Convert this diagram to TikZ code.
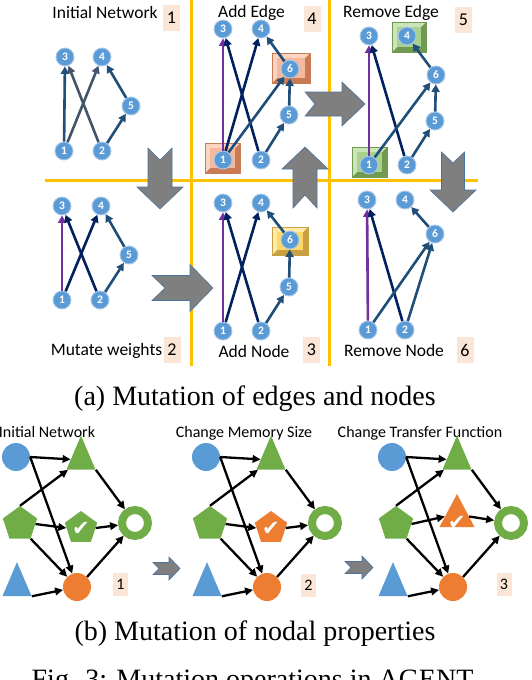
\documentclass[tikz,border=0pt]{standalone}
\usepackage{fontspec}
\setmainfont{Liberation Serif}
\newfontfamily\calfont{Carlito}
\newfontfamily\djfont{DejaVu Sans}
\usetikzlibrary{arrows.meta,shapes.geometric,calc}
\definecolor{nblue}{HTML}{5B9BD5}
\definecolor{nborder}{HTML}{A9C8EA}
\definecolor{cmb}{HTML}{1F4E79}
\definecolor{cslate}{HTML}{44546A}
\definecolor{cnavy}{HTML}{002060}
\definecolor{cpur}{HTML}{7030A0}
\definecolor{peach}{HTML}{FBE5D6}
\definecolor{gold}{HTML}{FFC000}
\definecolor{chgray}{HTML}{7F7F7F}
\definecolor{chedge}{HTML}{4A74A0}
\definecolor{sblue}{HTML}{5B9BD5}
\definecolor{sgreen}{HTML}{70AD47}
\definecolor{sorange}{HTML}{ED7D31}
\definecolor{obase}{HTML}{F6B99B}
\definecolor{olight}{HTML}{FAD5C2}
\definecolor{odark}{HTML}{C97B55}
\definecolor{gbase}{HTML}{A9D18E}
\definecolor{glight}{HTML}{CBE4BA}
\definecolor{gdark}{HTML}{6F9A50}
\definecolor{ybase}{HTML}{FFD966}
\definecolor{ylight}{HTML}{FFEAA8}
\definecolor{ydark}{HTML}{C9A043}
\newcommand\ttlfont{\calfont\fontsize{17.5}{18}\selectfont}
\newcommand\bttlfont{\calfont\fontsize{16}{17}\selectfont}
\newcommand\numfont{\calfont\fontsize{18}{18}\selectfont}
\newcommand\bnumfont{\calfont\fontsize{16}{16}\selectfont}
\newcommand\nnfont{\calfont\bfseries\fontsize{11.5}{11.5}\selectfont}
\newcommand\capfont{\fontsize{28}{30}\selectfont}
\newcommand\chev[8]{%
  \begin{scope}[shift={(#1,#2)}, rotate=#3]
    \path[chevst] (-#4/2,-#5) -- (#4/2-#7,-#5) -- (#4/2-#7,-#6) -- (#4/2,0) -- (#4/2-#7,#6) -- (#4/2-#7,#5) -- (-#4/2,#5) -- (-#4/2+#8,0) -- cycle;
  \end{scope}}
\newcommand\bevel[7]{%
  \fill[#7] (#1,#2) rectangle (#3,#4);
  \fill[#6] (#1,#2) -- (#3,#2) -- (#3-5,#2+5) -- (#1+5,#2+5) -- (#1+5,#4-5) -- (#1,#4) -- cycle;
  \fill[#5] (#1+5,#2+5) rectangle (#3-5,#4-5);
  \draw[#7, line width=0.5pt] (#1,#2) rectangle (#3,#4);}
\newcommand\bnet[5]{%
  \begin{scope}[shift={(#2,0)}]
    \node[bcirc, fill=sblue] (#1bc) at (16,457) {};
    \node[tri, fill=sgreen] (#1gt) at (81,460) {};
    \node[pent, minimum size=36pt, fill=sgreen] (#1pl) at (20,524) {};
    \node[#3] (#1md) at (81,#4) {};
    \node[ringst] (#1rg) at (135,523) {};
    \node[bcirc, fill=sorange] (#1oc) at (77,587) {};
    \node[tri, fill=sblue] (#1bt) at (17,586.5) {};
    \node[text=white, font=\djfont\fontsize{21}{21}\selectfont, inner sep=0] (#1ck) at (81,#5) {✔};
    \draw[bed] (#1bc.east) -- (#1gt);
    \draw[bed] (#1bc.east) -- (#1oc);
    \draw[bed] (#1pl.corner 1) -- (#1gt);
    \draw[bed] (#1pl.east) -- (#1md.west);
    \draw[bed] (#1pl.corner 4) -- (#1oc);
    \draw[bed] (#1md.east) -- (#1rg);
    \draw[bed] (#1gt.right corner) -- (#1rg);
    \draw[bed] (#1oc.north east) -- (#1rg);
    \draw[bed] (#1bt.right corner) -- (#1oc);
  \end{scope}}
\begin{document}
\begin{tikzpicture}[x=1pt,y=-1pt,
  nn/.style={circle, fill=nblue, draw=nborder, line width=0.9pt, minimum size=18pt, inner sep=0pt, text=white, font=\nnfont},
  ed/.style={line width=2.6pt, -{Triangle[length=7.5pt,width=8pt]}},
  numbox/.style={fill=peach, minimum width=17pt, minimum height=26pt, inner sep=0pt, font=\numfont},
  bnumbox/.style={fill=peach, minimum width=15pt, minimum height=23pt, inner sep=0pt, font=\bnumfont},
  ttl/.style={font=\ttlfont, inner sep=0pt, anchor=base},
  bttl/.style={font=\bttlfont, inner sep=0pt, anchor=base},
  yline/.style={draw=gold, line width=3pt},
  chevst/.style={fill=chgray, draw=chedge, line width=0.6pt},
  bed/.style={line width=2.3pt, black, -{Triangle[length=8pt,width=7.5pt]}},
  bcirc/.style={circle, minimum size=28pt, inner sep=0pt},
  tri/.style={isosceles triangle, isosceles triangle stretches, shape border rotate=90, minimum width=29pt, minimum height=34pt, inner sep=0pt},
  pent/.style={regular polygon, regular polygon sides=5, inner sep=0pt},
  ringst/.style={circle, draw=sgreen, fill=white, line width=8pt, minimum size=26pt, inner sep=0pt},
  capt/.style={font=\capfont, inner sep=0pt, anchor=base}
]
\useasboundingbox (0,0) rectangle (532,680);
\clip (0,0) rectangle (532,680);
\fill[white] (0,0) rectangle (532,680);

% yellow separators
\draw[yline] (191,0) -- (191,366);
\draw[yline] (329,0) -- (329,366);
\draw[yline] (45,180) -- (478,180);

% big chevron arrows
\chev{160}{178.5}{-90}{61}{12}{23}{22}{12}
\chev{182.5}{288}{0}{61}{12.5}{23.5}{23}{13}
\chev{305}{177.5}{90}{61}{12}{23}{22}{13}
\chev{335}{104}{0}{60}{12}{22}{23}{10}
\chev{453}{182}{-90}{60}{11.5}{23}{22}{11}

% titles and number boxes
\node[ttl] (t1) at (105,19) {Initial Network};
\node[numbox] (n1) at (171.5,18) {1};
\node[ttl] (t4) at (251.5,17) {Add Edge};
\node[numbox] (n4) at (312,18.5) {4};
\node[ttl] (t5) at (391,17) {Remove Edge};
\node[numbox] (n5) at (463.5,20) {5};
\node[ttl] (t2) at (106.5,355) {Mutate weights};
\node[numbox] (n2) at (172,350) {2};
\node[ttl] (t3) at (254,357) {Add Node};
\node[numbox] (n3) at (311.5,350) {3};
\node[ttl] (t6) at (394,356) {Remove Node};
\node[numbox] (n6) at (465,350) {6};

% bevel highlight boxes
\bevel{272}{53}{310}{83}{obase}{olight}{odark}
\bevel{205}{143}{240}{173}{obase}{olight}{odark}
\bevel{392}{22}{426}{52}{gbase}{glight}{gdark}
\bevel{352}{147}{387}{177}{gbase}{glight}{gdark}
\bevel{272}{227}{308}{255}{ybase}{ylight}{ydark}

% Panel 1: initial network
\node[nn] (a1) at (64,151) {1};
\node[nn] (a2) at (102,151) {2};
\node[nn] (a3) at (65,57) {3};
\node[nn] (a4) at (102,57) {4};
\node[nn] (a5) at (131,106) {5};
\draw[ed,cmb] (a1) -- (a3);
\draw[ed,cslate] (a1) -- (a4);
\draw[ed,cslate] (a2) -- (a3);
\draw[ed,cmb] (a2) -- (a5);
\draw[ed,cmb] (a5) -- (a4);

% Panel 2: mutate weights
\node[nn] (b1) at (62,300) {1};
\node[nn] (b2) at (100,300) {2};
\node[nn] (b3) at (62,206) {3};
\node[nn] (b4) at (101,206) {4};
\node[nn] (b5) at (129,255) {5};
\draw[ed,cpur] (b1) -- (b3);
\draw[ed,cnavy] (b1) -- (b4);
\draw[ed,cnavy] (b2) -- (b3);
\draw[ed,cmb] (b2) -- (b5);
\draw[ed,cmb] (b5) -- (b4);

% Panel 4: add edge
\node[nn] (d1) at (223,160) {1};
\node[nn] (d2) at (261,160) {2};
\node[nn] (d3) at (223,29) {3};
\node[nn] (d4) at (261,29) {4};
\node[nn] (d5) at (289,115) {5};
\node[nn] (d6) at (290,69) {6};
\draw[ed,cpur] (d1) -- (d3);
\draw[ed,cnavy] (d1) -- (d4);
\draw[ed,cnavy] (d2) -- (d3);
\draw[ed,cmb] (d2) -- (d5);
\draw[ed,cmb] (d5) -- (d6);
\draw[ed,cmb] (d6) -- (d4);
\draw[ed,cmb] (d1) -- (d6);

% Panel 5: remove edge
\node[nn] (e1) at (369,165) {1};
\node[nn] (e2) at (407,165) {2};
\node[nn] (e3) at (369,36) {3};
\node[nn] (e4) at (407,36) {4};
\node[nn] (e5) at (435,121) {5};
\node[nn] (e6) at (436,75) {6};
\draw[ed,cpur] (e1) -- (e3);
\draw[ed,cnavy] (e2) -- (e3);
\draw[ed,cmb] (e2) -- (e5);
\draw[ed,cmb] (e5) -- (e6);
\draw[ed,cmb] (e6) -- (e4);
\draw[ed,cmb] (e1) -- (e6);

% Panel 3: add node
\node[nn] (c1) at (223,331) {1};
\node[nn] (c2) at (261,331) {2};
\node[nn] (c3) at (223,203) {3};
\node[nn] (c4) at (261,203) {4};
\node[nn] (c5) at (289,287) {5};
\node[nn] (c6) at (290,240) {6};
\draw[ed,cpur] (c1) -- (c3);
\draw[ed,cnavy] (c1) -- (c4);
\draw[ed,cnavy] (c2) -- (c3);
\draw[ed,cmb] (c2) -- (c5);
\draw[ed,cmb] (c5) -- (c6);
\draw[ed,cmb] (c6) -- (c4);

% Panel 6: remove node
\node[nn] (f1) at (368,330) {1};
\node[nn] (f2) at (405,330) {2};
\node[nn] (f3) at (367,200) {3};
\node[nn] (f4) at (405,200) {4};
\node[nn] (f6) at (435,234) {6};
\draw[ed,cpur] (f1) -- (f3);
\draw[ed,cnavy] (f2) -- (f3);
\draw[ed,cmb] (f1) -- (f6);
\draw[ed,cmb] (f2) -- (f6);
\draw[ed,cmb] (f6) -- (f4);

% caption (a)
\node[capt] (capa) at (255,405) {(a) Mutation of edges and nodes};

% part (b)
\node[bttl] (bt1) at (47,437) {Initial Network};
\node[bttl] (bt2) at (244,437) {Change Memory Size};
\node[bttl] (bt3) at (420,437) {Change Transfer Function};

\bnet{p}{0}{pent, minimum size=34pt, fill=sgreen}{528}{529}
\bnet{q}{190}{pent, minimum size=34pt, fill=sorange}{528}{529}
\bnet{r}{376}{tri, minimum width=35pt, minimum height=33pt, fill=sorange}{516.5}{523}

\node[bnumbox] (m1) at (120.5,584.5) {1};
\node[bnumbox] (m2) at (308.5,585) {2};
\node[bnumbox] (m3) at (504,584) {3};

\chev{166.5}{568.5}{0}{27}{6}{11.5}{11}{6}
\chev{359}{567.5}{0}{28}{6}{11.5}{11}{6}

\node[capt] (capb) at (255,640) {(b) Mutation of nodal properties};
\node[capt] (capf) at (255,688) {Fig. 3: Mutation operations in AGENT.};
\end{tikzpicture}
\end{document}
